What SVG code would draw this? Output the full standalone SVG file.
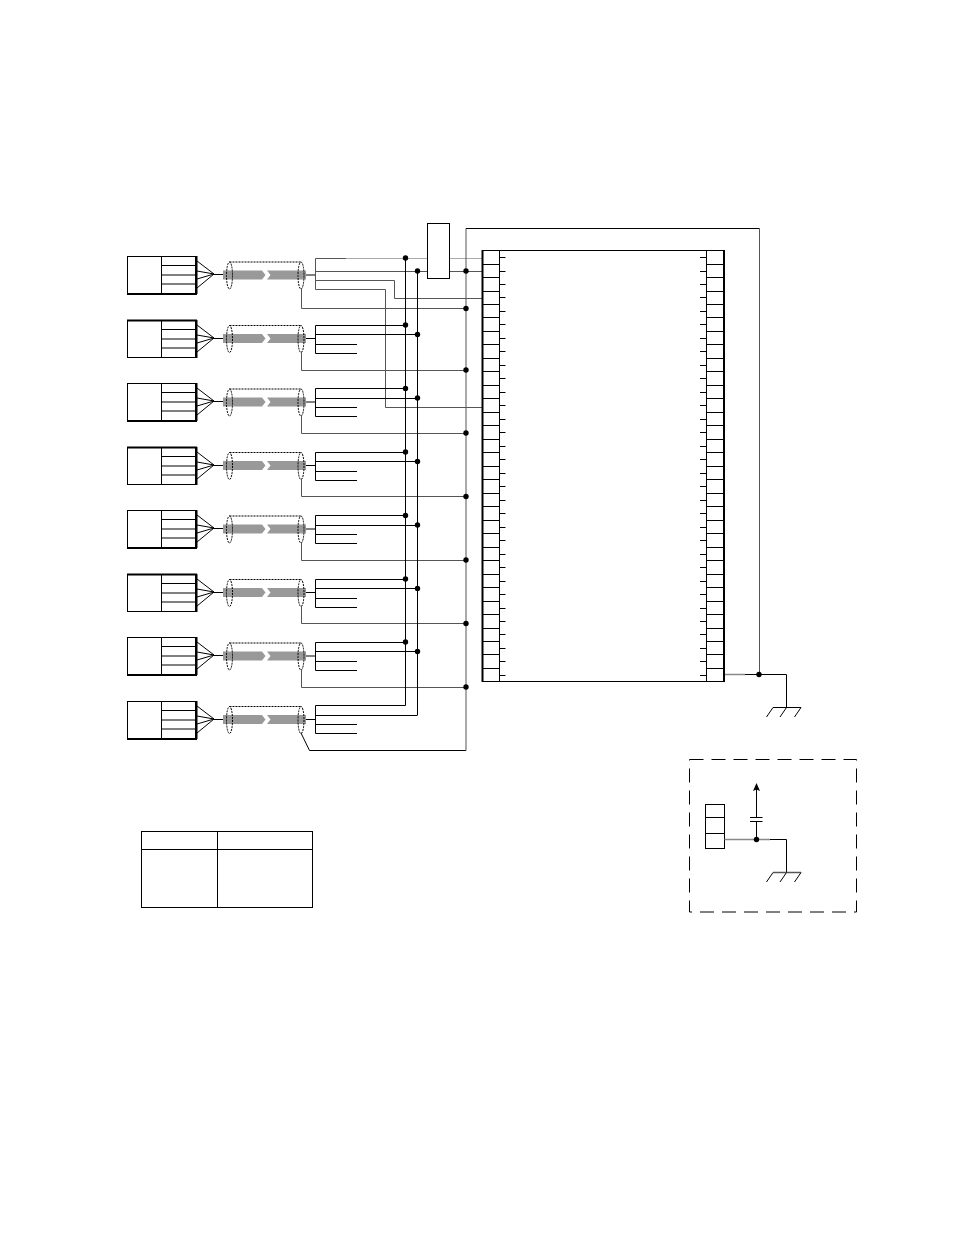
<svg xmlns="http://www.w3.org/2000/svg" width="954" height="1235" viewBox="0 0 954 1235">
<style>
.l{fill:none;stroke:#000;stroke-width:1}
.g{fill:none;stroke:#555;stroke-width:1}
.b{fill:none;stroke:#000;stroke-width:2}
.w{fill:#fff;stroke:#000;stroke-width:1}
.d{fill:none;stroke:#000;stroke-width:1;stroke-dasharray:2 1}
.band{fill:#999;stroke:none}
.dot{fill:#000;stroke:none}
.box{fill:none;stroke:#000;stroke-width:1;stroke-dasharray:14 8}
</style>
<defs>
<g id="conn">
<rect class="l" x="127.5" y="0.5" width="68" height="37"/>
<path class="b" d="M196.5 0V38"/>
<path class="l" d="M161.5 0V37M161.5 9.5H196M161.5 19H196M161.5 28H196"/>
<path class="l" d="M197 5L214 18M197 15L214 18M197 23L214 18M197 32L214 18M214 18.5H224"/>
</g>
<g id="cable">
<polygon class="band" points="223,14 262,14 265.5,18.5 262,23 223,23"/>
<polygon class="band" points="267,14 306,14 306,23 267,23 270.5,18.5"/>
<ellipse class="d" cx="229.5" cy="19" rx="3" ry="13.5"/>
<ellipse class="d" cx="301" cy="19" rx="3" ry="13.5"/>
<path class="d" d="M229.5 5.5H301"/>
<path class="l" d="M306 18.5H315.5"/>
</g>
</defs>

<g id="connector-1"><use href="#conn" y="256"/><path class="b" d="M127 294H197"/></g>
<g id="connector-2"><use href="#conn" y="320"/><path class="b" d="M127 320.5H197"/></g>
<g id="connector-3"><use href="#conn" y="383"/><path class="b" d="M127 421H197"/></g>
<g id="connector-4"><use href="#conn" y="447"/><path class="b" d="M127 447.5H197"/></g>
<g id="connector-5"><use href="#conn" y="510"/><path class="b" d="M127 548H197"/></g>
<g id="connector-6"><use href="#conn" y="574"/><path class="b" d="M127 574.5H197"/></g>
<g id="connector-7"><use href="#conn" y="637"/><path class="b" d="M127 675H197"/></g>
<g id="connector-8"><use href="#conn" y="701"/><path class="b" d="M127 739H197"/></g>

<g id="cable-1"><use href="#cable" y="256.5"/></g>
<g id="cable-2"><use href="#cable" y="320"/></g>
<g id="cable-3"><use href="#cable" y="383.5"/></g>
<g id="cable-4"><use href="#cable" y="447"/></g>
<g id="cable-5"><use href="#cable" y="510.5"/></g>
<g id="cable-6"><use href="#cable" y="574"/></g>
<g id="cable-7"><use href="#cable" y="637.5"/></g>
<g id="cable-8"><use href="#cable" y="701"/></g>

<g id="connectors">
<path class="g" d="M315.5 258.5V289.5M315.5 271.5H482M315.5 280.5H394.5V298.5H482M315.5 289.5H385.5V407.5H482"/>
<path d="M315.5 258.5H346" class="g"/>
<path d="M346 258.5H482" fill="none" stroke="#aaa" stroke-width="1"/>
<path class="l" d="M315.5 325.5V353.5M315.5 325.5H405.5M315.5 334.5H417M315.5 344.5H357M315.5 353.5H357"/>
<path class="l" d="M315.5 388.5V416.5M315.5 388.5H405.5M315.5 398.5H417M315.5 407.5H357M315.5 416.5H357"/>
<path class="l" d="M315.5 452.5V480.5M315.5 452.5H405.5M315.5 461.5H417M315.5 471.5H357M315.5 480.5H357"/>
<path class="l" d="M315.5 515.5V543.5M315.5 515.5H405.5M315.5 525.5H417M315.5 534.5H357M315.5 543.5H357"/>
<path class="l" d="M315.5 579.5V607.5M315.5 579.5H405.5M315.5 588.5H417M315.5 598.5H357M315.5 607.5H357"/>
<path class="l" d="M315.5 642.5V670.5M315.5 642.5H405.5M315.5 651.5H417M315.5 661.5H357M315.5 670.5H357"/>
<path class="l" d="M315.5 705.5V733.5M315.5 705.5H405.5M315.5 715.5H417M315.5 724.5H357M315.5 733.5H357"/>
<path class="g" d="M301.5 289V308.5H466M301.5 352V370.5H466M301.5 416V433.5H466M301.5 479V496.5H466M301.5 543V560.5H466M301.5 606V623.5H466M301.5 670V687.5H466"/>
<path class="l" d="M301 733L309.5 750.5H466"/>
<path class="l" d="M405.5 258V705.5M417.5 271V715.5"/>
<path class="g" d="M466 228.5V750.5"/>
<path class="l" d="M466 228.5H759.5"/>
<path class="g" d="M759.5 228.5V675"/>
<path fill="none" stroke="#888" stroke-width="1.5" d="M725 674.5H745"/>
<path class="l" d="M745 674.5H786.5V707.5"/>
<path class="l" d="M773 707.5H801M773 707.5L766.5 717M786.5 707.5L780 717M801 707.5L794.5 717"/>
<g class="dot">
<circle cx="405.5" cy="258" r="2.7"/><circle cx="417.5" cy="271" r="2.7"/><circle cx="466" cy="271" r="2.7"/><circle cx="466" cy="308.5" r="2.7"/>
<circle cx="405.5" cy="325" r="2.7"/><circle cx="417.5" cy="334.5" r="2.7"/><circle cx="466" cy="370" r="2.7"/>
<circle cx="405.5" cy="388.5" r="2.7"/><circle cx="417.5" cy="398" r="2.7"/><circle cx="466" cy="433" r="2.7"/>
<circle cx="405.5" cy="452" r="2.7"/><circle cx="417.5" cy="461.5" r="2.7"/><circle cx="466" cy="496.5" r="2.7"/>
<circle cx="405.5" cy="515.5" r="2.7"/><circle cx="417.5" cy="525" r="2.7"/><circle cx="466" cy="560" r="2.7"/>
<circle cx="405.5" cy="579" r="2.7"/><circle cx="417.5" cy="588.5" r="2.7"/><circle cx="466" cy="623.5" r="2.7"/>
<circle cx="405.5" cy="642" r="2.7"/><circle cx="417.5" cy="651.5" r="2.7"/><circle cx="466" cy="687" r="2.7"/>
<circle cx="759" cy="674.5" r="2.7"/>
</g>
</g>

<g id="relay"><rect class="w" x="427.5" y="223.5" width="22" height="55"/></g>

<g id="main-connector">
<rect class="l" x="482.5" y="250.5" width="241" height="431"/>
<path class="b" d="M482.5 250V682M724 250V682"/>
<path class="l" d="M499.5 250V682M706.5 250V682"/>
<path class="l" d="M482 264.5H499.5M482 277.5H499.5M482 291.5H499.5M482 304.5H499.5M482 317.5H499.5M482 331.5H499.5M482 344.5H499.5M482 358.5H499.5M482 371.5H499.5M482 385.5H499.5M482 398.5H499.5M482 412.5H499.5M482 425.5H499.5M482 439.5H499.5M482 452.5H499.5M482 466.5H499.5M482 479.5H499.5M482 493.5H499.5M482 506.5H499.5M482 520.5H499.5M482 533.5H499.5M482 547.5H499.5M482 560.5H499.5M482 574.5H499.5M482 587.5H499.5M482 601.5H499.5M482 614.5H499.5M482 628.5H499.5M482 641.5H499.5M482 654.5H499.5M482 668.5H499.5"/>
<path class="l" d="M706.5 264.5H724M706.5 277.5H724M706.5 291.5H724M706.5 304.5H724M706.5 317.5H724M706.5 331.5H724M706.5 344.5H724M706.5 358.5H724M706.5 371.5H724M706.5 385.5H724M706.5 398.5H724M706.5 412.5H724M706.5 425.5H724M706.5 439.5H724M706.5 452.5H724M706.5 466.5H724M706.5 479.5H724M706.5 493.5H724M706.5 506.5H724M706.5 520.5H724M706.5 533.5H724M706.5 547.5H724M706.5 560.5H724M706.5 574.5H724M706.5 587.5H724M706.5 601.5H724M706.5 614.5H724M706.5 628.5H724M706.5 641.5H724M706.5 654.5H724M706.5 668.5H724"/>
<path class="l" d="M499.5 257.5H505.5M499.5 271.5H505.5M499.5 284.5H505.5M499.5 297.5H505.5M499.5 311.5H505.5M499.5 324.5H505.5M499.5 338.5H505.5M499.5 351.5H505.5M499.5 365.5H505.5M499.5 378.5H505.5M499.5 392.5H505.5M499.5 405.5H505.5M499.5 419.5H505.5M499.5 432.5H505.5M499.5 446.5H505.5M499.5 459.5H505.5M499.5 473.5H505.5M499.5 486.5H505.5M499.5 500.5H505.5M499.5 513.5H505.5M499.5 527.5H505.5M499.5 540.5H505.5M499.5 554.5H505.5M499.5 567.5H505.5M499.5 581.5H505.5M499.5 594.5H505.5M499.5 608.5H505.5M499.5 621.5H505.5M499.5 634.5H505.5M499.5 648.5H505.5M499.5 661.5H505.5M499.5 675.5H505.5"/>
<path class="l" d="M700 257.5H706.5M700 271.5H706.5M700 284.5H706.5M700 297.5H706.5M700 311.5H706.5M700 324.5H706.5M700 338.5H706.5M700 351.5H706.5M700 365.5H706.5M700 378.5H706.5M700 392.5H706.5M700 405.5H706.5M700 419.5H706.5M700 432.5H706.5M700 446.5H706.5M700 459.5H706.5M700 473.5H706.5M700 486.5H706.5M700 500.5H706.5M700 513.5H706.5M700 527.5H706.5M700 540.5H706.5M700 554.5H706.5M700 567.5H706.5M700 581.5H706.5M700 594.5H706.5M700 608.5H706.5M700 621.5H706.5M700 634.5H706.5M700 648.5H706.5M700 661.5H706.5M700 675.5H706.5"/>
</g>

<g id="detail-box">
<rect class="box" x="689.5" y="759.5" width="167" height="152.5"/>
<rect class="l" x="705.5" y="804.5" width="19" height="44"/>
<path class="l" d="M705.5 817.5H724.5M705.5 833.5H724.5"/>
<path fill="none" stroke="#888" stroke-width="1.5" d="M724.5 839.5H770"/>
<path class="l" d="M770 839.5H786.5V872.5"/>
<path class="l" d="M756.5 839.5V821.5M756.5 817.5V788"/>
<polygon class="dot" points="756.5,783 760,791 756.5,789.5 753,791"/>
<path class="l" d="M750 817.5H762.5M750 821.5H762.5"/>
<circle class="dot" cx="756.5" cy="839.5" r="2.7"/>
<path fill="none" stroke="#555" stroke-width="1.5" d="M773 872.5H801"/>
<path class="l" d="M773 872.5L766.5 882M786.5 872.5L780 882M801 872.5L794.5 882"/>
</g>

<g id="legend-table">
<rect class="l" x="141.5" y="831.5" width="171" height="76"/>
<path class="l" d="M217.5 831.5V907.5M141.5 849.5H312.5"/>
</g>
</svg>
